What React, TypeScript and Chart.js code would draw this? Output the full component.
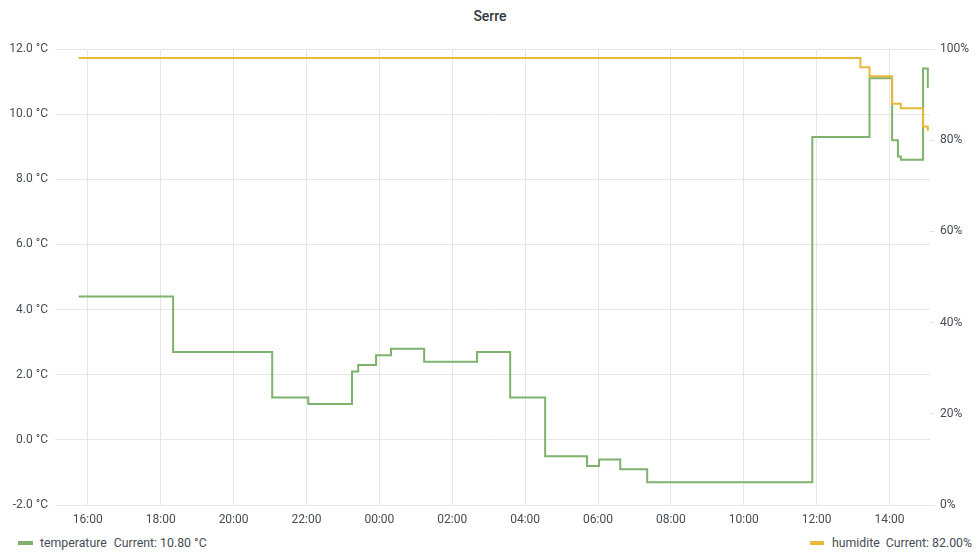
import React, { useEffect, useRef } from "react";
import { Chart, registerables } from "chart.js";

Chart.register(...registerables);

// Time in hours since 00:00 of the first day (24 = midnight, 38 = 14:00 next day)
const tempHours = [15.75, 18.34, 21.06, 22.05, 23.25, 23.42, 23.91, 24.32, 25.23, 26.68, 27.59, 28.55, 29.7, 30.03, 30.61, 31.35, 35.88, 37.45, 38.07, 38.23, 38.31, 38.92, 39.05];
const tempValues = [4.4, 2.7, 1.3, 1.1, 2.1, 2.3, 2.6, 2.8, 2.4, 2.7, 1.3, -0.5, -0.8, -0.6, -0.9, -1.3, 9.3, 11.1, 9.2, 8.7, 8.6, 11.4, 10.8];

const humHours = [15.75, 37.2, 37.45, 38.07, 38.31, 38.92, 39.05];
const humValues = [98, 96, 94, 88, 87, 83, 82];

const xTickHours = [16, 18, 20, 22, 24, 26, 28, 30, 32, 34, 36, 38];
const xMin = 15.1;
const xMax = 39.11;

const title = "Serre";
const tempLabel = "temperature";
const tempCurrent = "Current: 10.80 °C";
const humLabel = "humidite";
const humCurrent = "Current: 82.00%";

const GREEN = "#7EB26D";
const YELLOW = "#EAB839";
const TEXT = "#464c54";
const GRID = "#e6e6e6";

export default function App() {
  const ref = useRef<HTMLCanvasElement | null>(null);

  useEffect(() => {
    if (!ref.current) return;
    Chart.defaults.font.family = "Roboto";
    const chart = new Chart(ref.current, {
      type: "line",
      data: {
        datasets: [
          {
            label: humLabel,
            data: humHours.map((h, i) => ({ x: h, y: humValues[i] })),
            borderColor: YELLOW,
            backgroundColor: YELLOW,
            borderWidth: 2,
            pointRadius: 0,
            stepped: "before",
            yAxisID: "y1",
            fill: false,
          },
          {
            label: tempLabel,
            data: tempHours.map((h, i) => ({ x: h, y: tempValues[i] })),
            borderColor: GREEN,
            backgroundColor: GREEN,
            borderWidth: 2,
            pointRadius: 0,
            stepped: "before",
            yAxisID: "y",
            fill: false,
          },
        ],
      },
      options: {
        animation: false,
        responsive: false,
        maintainAspectRatio: false,
        layout: { padding: { top: 49, left: 0, right: 0, bottom: 0 } },
        plugins: {
          legend: { display: false },
          title: { display: false },
          tooltip: { enabled: false },
        },
        scales: {
          x: {
            type: "linear",
            min: xMin,
            max: xMax,
            afterBuildTicks: (scale: any) => {
              scale.ticks = xTickHours.map((v) => ({ value: v }));
            },
            afterFit: (scale: any) => {
              scale.height = 25;
            },
            ticks: {
              color: TEXT,
              font: { size: 12 },
              padding: 8,
              maxRotation: 0,
              autoSkip: false,
              callback: (v: any) => {
                const h = Math.round(Number(v)) % 24;
                return (h < 10 ? "0" : "") + h + ":00";
              },
            },
            grid: { color: GRID, drawTicks: false },
            border: { display: false },
          },
          y: {
            position: "left",
            min: -2,
            max: 12,
            afterFit: (scale: any) => {
              scale.width = 55;
            },
            ticks: {
              stepSize: 2,
              color: TEXT,
              font: { size: 12 },
              padding: 7,
              callback: (v: any) => Number(v).toFixed(1) + " °C",
            },
            grid: { color: GRID, drawTicks: false },
            border: { display: false },
          },
          y1: {
            position: "right",
            min: 0,
            max: 100,
            afterFit: (scale: any) => {
              scale.width = 50;
            },
            ticks: {
              stepSize: 20,
              color: TEXT,
              font: { size: 12 },
              padding: 5,
              callback: (v: any) => v + "%",
            },
            grid: { color: GRID, drawOnChartArea: false, drawTicks: true, tickLength: 5 },
            border: { display: false },
          },
        },
      },
    });
    return () => chart.destroy();
  }, []);

  const legendText: React.CSSProperties = {
    fontFamily: "Roboto",
    fontSize: 12.3,
    color: TEXT,
    whiteSpace: "nowrap",
  };

  return (
    <div
      style={{
        position: "fixed",
        left: 0,
        top: 0,
        width: 980,
        height: 560,
        background: "#ffffff",
        overflow: "hidden",
      }}
    >
      <div
        style={{
          position: "absolute",
          top: 7,
          left: 0,
          width: 980,
          textAlign: "center",
          fontFamily: "Roboto",
          fontSize: 14,
          fontWeight: 500,
          color: "#333840",
          lineHeight: "18px",
        }}
      >
        {title}
      </div>
      <canvas
        ref={ref}
        width={980}
        height={530}
        style={{ position: "absolute", left: 0, top: 0, width: 980, height: 530 }}
      />
      <div
        style={{
          position: "absolute",
          left: 18,
          top: 535,
          height: 16,
          display: "flex",
          alignItems: "center",
          ...legendText,
        }}
      >
        <span style={{ display: "inline-block", width: 15, height: 4, background: GREEN, marginRight: 7 }} />
        <span>{tempLabel}</span>
        <span style={{ marginLeft: 7 }}>{tempCurrent}</span>
      </div>
      <div
        style={{
          position: "absolute",
          right: 8,
          top: 535,
          height: 16,
          display: "flex",
          alignItems: "center",
          ...legendText,
        }}
      >
        <span style={{ display: "inline-block", width: 14, height: 4, background: YELLOW, marginRight: 8 }} />
        <span>{humLabel}</span>
        <span style={{ marginLeft: 6 }}>{humCurrent}</span>
      </div>
    </div>
  );
}
